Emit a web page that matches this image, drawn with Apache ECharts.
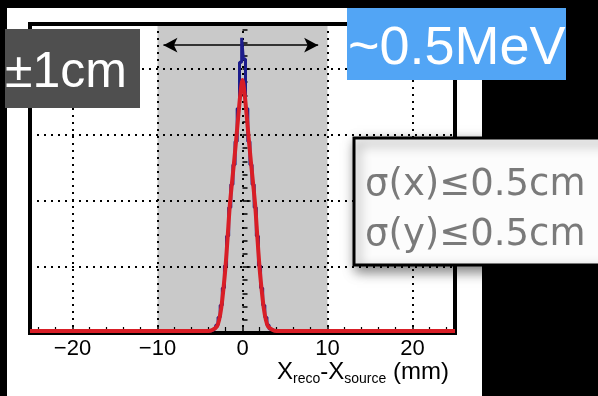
<!DOCTYPE html>
<html>
<head>
<meta charset="utf-8">
<script src="https://cdn.jsdelivr.net/npm/echarts@6/dist/echarts.min.js"></script>
<style>
  html, body { margin: 0; padding: 0; background: #000; }
  #chart { width: 598px; height: 396px; }
</style>
</head>
<body>
<div id="chart"></div>
<script>
// histogram (blue), bin centres in mm
const histX = [-25, -3.75, -3.5, -3.25, -3, -2.75, -2.5, -2.25, -2, -1.75, -1.5, -1.25, -1, -0.75, -0.5, -0.2, 0,
               0.2, 0.5, 0.75, 1, 1.25, 1.5, 1.75, 2, 2.25, 2.5, 2.75, 3, 3.25, 3.5, 3.75, 25];
const histY = [0.03, 0.03, 0.04, 0.06, 0.12, 0.24, 0.42, 0.68, 1.02, 1.47, 1.9, 2.25, 2.55, 2.9, 3.4, 4.1, 4.47,
               4.15, 3.4, 2.9, 2.55, 2.25, 1.9, 1.47, 1.02, 0.68, 0.42, 0.24, 0.12, 0.06, 0.04, 0.03, 0.03];
// gaussian fit (red)
const fitX = [-25, -4, -3.5, -3, -2.75, -2.5, -2.25, -2, -1.75, -1.5, -1.25, -1, -0.75, -0.5, -0.25, 0,
              0.25, 0.5, 0.75, 1, 1.25, 1.5, 1.75, 2, 2.25, 2.5, 2.75, 3, 3.5, 4, 25];
const fitY = [0.03, 0.03, 0.05, 0.1, 0.2, 0.38, 0.66, 1.0, 1.45, 1.92, 2.26, 2.58, 2.92, 3.28, 3.62, 3.83,
              3.62, 3.28, 2.92, 2.58, 2.26, 1.92, 1.45, 1.0, 0.66, 0.38, 0.2, 0.1, 0.05, 0.03, 0.03];
const xTicks = [-20, -10, 0, 10, 20];
const xMinorTicks = [-24, -22, -18, -16, -14, -12, -8, -6, -4, -2, 2, 4, 6, 8, 12, 14, 16, 18, 22, 24];
const shadeRange = [-10, 10];
const arrowRange = [-9.3, 8.9];
const arrowLevel = 4.36;

const chart = echarts.init(document.getElementById('chart'));

const dotted = { color: '#000', width: 2, type: [2, 5] };

const option = {
  backgroundColor: '#000',
  animation: false,
  grid: { left: 30, right: 143, top: 24, bottom: 63 },
  xAxis: [
    {
      type: 'value', min: -25, max: 25, z: 5,
      axisLine: { show: false },
      axisTick: { inside: true, length: 8, lineStyle: { color: '#000', width: 1.5 }, customValues: xTicks },
      axisLabel: {
        customValues: xTicks, margin: 5, color: '#000', fontSize: 22,
        fontFamily: 'Liberation Sans',
        formatter: v => String(v).replace('-', '\u2212')
      },
      splitLine: { show: true, lineStyle: dotted }
    },
    {
      type: 'value', min: -25, max: 25, position: 'bottom', z: 5,
      axisLine: { show: false },
      axisTick: { inside: true, length: 6, lineStyle: { color: '#000', width: 1.2 }, customValues: xMinorTicks },
      axisLabel: { show: false },
      splitLine: { show: false }
    }
  ],
  yAxis: {
    type: 'value', min: 0, max: 4.68, interval: 1, z: 5,
    axisLine: { show: false },
    axisTick: { inside: true, length: 8, lineStyle: { color: '#000', width: 1.5 } },
    minorTick: { show: true, splitNumber: 5, length: 5, lineStyle: { color: '#000', width: 1.5 } },
    axisLabel: { show: false },
    splitLine: { show: true, lineStyle: dotted }
  },
  series: [
    {
      type: 'line', data: [], z: 1, silent: true,
      markArea: {
        silent: true,
        itemStyle: { color: '#c9c9c9' },
        data: [[{ xAxis: shadeRange[0] }, { xAxis: shadeRange[1] }]]
      },
      markLine: {
        silent: true,
        symbol: ['arrow', 'arrow'],
        symbolSize: [11, 14],
        label: { show: false },
        lineStyle: { color: '#000', width: 1.5, type: 'solid' },
        data: [[{ coord: [arrowRange[0], arrowLevel] }, { coord: [arrowRange[1], arrowLevel] }]]
      }
    },
    {
      name: 'hist', type: 'line', step: 'middle', z: 6, showSymbol: false,
      lineStyle: { color: '#1c1c8c', width: 3 },
      data: histX.map((x, i) => [x, histY[i]])
    },
    {
      name: 'fit', type: 'line', smooth: 0.3, z: 7, showSymbol: false,
      lineStyle: { color: '#d81e26', width: 4 },
      data: fitX.map((x, i) => [x, fitY[i]])
    }
  ],
  graphic: [
    { type: 'rect', z: -10, shape: { x: 7, y: 8, width: 475, height: 400 }, style: { fill: '#fff' } },
    { type: 'rect', z: 4, shape: { x: 30, y: 24, width: 425, height: 309 },
      style: { fill: 'none', stroke: '#000', lineWidth: 4 } },
    {
      type: 'text', z: 100, left: 277, top: 360,
      style: {
        text: '{b|X}{s|reco}{b|-X}{s|source}{b| (mm)}',
        rich: {
          b: { fontSize: 24, fontFamily: 'Liberation Sans', fill: '#000', lineHeight: 24, verticalAlign: 'top' },
          s: { fontSize: 14, fontFamily: 'Liberation Sans', fill: '#000', lineHeight: 14, verticalAlign: 'top', padding: [12, 0, 0, 0] }
        }
      }
    },
    { type: 'rect', z: 100, shape: { x: 5, y: 29, width: 135, height: 79 }, style: { fill: '#4f4f4f' } },
    {
      type: 'text', z: 101, x: 5, y: 73,
      style: { text: '\u00b11cm', fill: '#fff', fontSize: 50, fontFamily: 'Liberation Sans', verticalAlign: 'middle' }
    },
    { type: 'rect', z: 100, shape: { x: 347, y: 8, width: 219, height: 72 }, style: { fill: '#52a5f5' } },
    {
      type: 'text', z: 101, x: 348, y: 49,
      style: { text: '~0.5MeV', fill: '#fff', fontSize: 54, fontFamily: 'Liberation Sans', verticalAlign: 'middle' }
    },
    {
      type: 'rect', z: 100, shape: { x: 354, y: 138, width: 260, height: 127 },
      style: { fill: '#fcfcfc', stroke: '#000', lineWidth: 3, shadowBlur: 12, shadowColor: 'rgba(0,0,0,0.5)', shadowOffsetX: 3, shadowOffsetY: 5 }
    },
    {
      type: 'text', z: 101, x: 365, y: 185,
      style: { text: '\u03c3(x)\u22640.5cm', fill: '#7a7a7a', fontSize: 37, fontFamily: 'DejaVu Sans', verticalAlign: 'middle' }
    },
    {
      type: 'text', z: 101, x: 365, y: 235,
      style: { text: '\u03c3(y)\u22640.5cm', fill: '#7a7a7a', fontSize: 37, fontFamily: 'DejaVu Sans', verticalAlign: 'middle' }
    }
  ]
};

chart.setOption(option);
</script>
</body>
</html>
